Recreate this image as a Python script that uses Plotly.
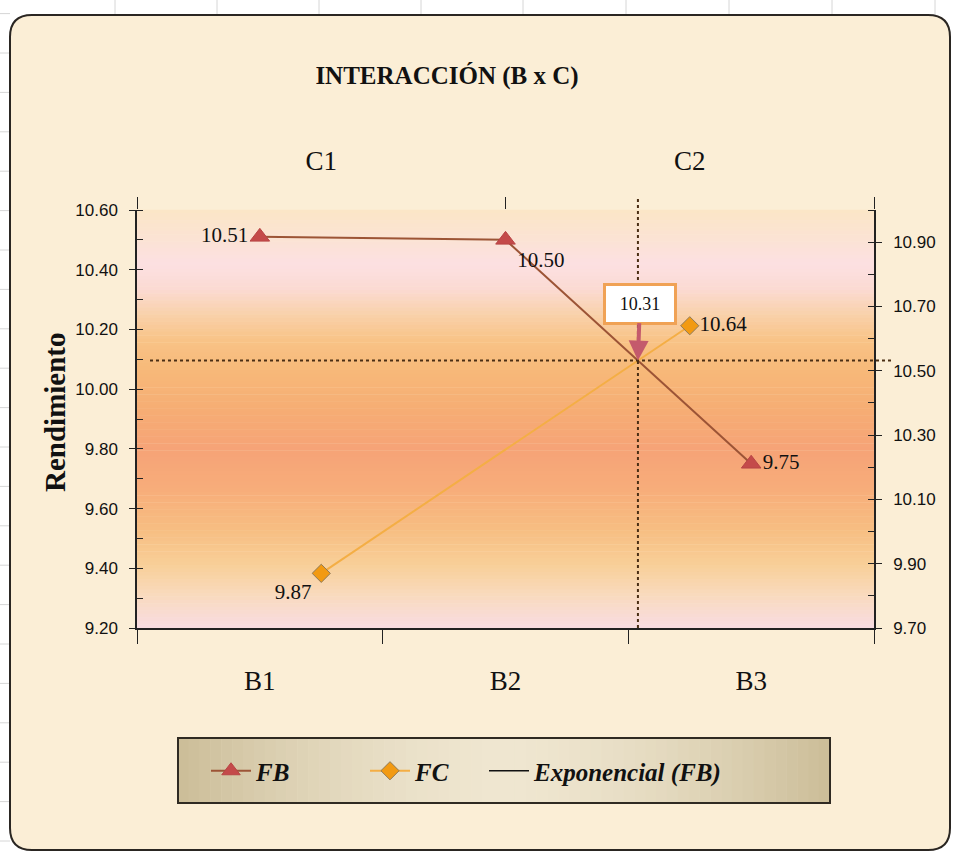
import numpy as np
import plotly.graph_objects as go

# ---- data -------------------------------------------------------------
B_LABELS = ["B1", "B2", "B3"]
FB_VALUES = [10.51, 10.50, 9.75]
C_LABELS = ["C1", "C2"]
FC_VALUES = [9.87, 10.64]
CROSS_LABEL = "10.31"
LEFT_TICKS = [9.20, 9.40, 9.60, 9.80, 10.00, 10.20, 10.40, 10.60]
RIGHT_TICKS = [9.70, 9.90, 10.10, 10.30, 10.50, 10.70, 10.90]
LEFT_RANGE = [9.20, 10.60]
RIGHT_RANGE = [9.70, 11.00]

# ---- page geometry ----------------------------------------------------
W, H = 955, 852
L, R, T, B = 137, 81, 210, 224
PW, PH = W - L - R, H - T - B


def px_x(px):
    return (px - L) / PW


def px_y(py):
    return (H - B - py) / PH


SERIF = "Liberation Serif, Times New Roman, serif"
SANS = "Liberation Sans Narrow, Arial Narrow, Liberation Sans, sans-serif"


def hexmix(c1, c2, t):
    a = np.array([int(c1[i:i + 2], 16) for i in (1, 3, 5)], float)
    b = np.array([int(c2[i:i + 2], 16) for i in (1, 3, 5)], float)
    c = a + (b - a) * t
    return "#%02x%02x%02x" % tuple(int(round(v)) for v in c)


shapes = []

# spreadsheet grid behind the chart object
for gx in [115, 217, 319, 421, 523, 626, 729, 832, 935]:
    shapes.append(dict(type="line", xref="paper", yref="paper", layer="below",
                       x0=px_x(gx), x1=px_x(gx), y0=px_y(0), y1=px_y(15),
                       line=dict(color="#d6d6d6", width=1)))
for k in range(22):
    gy = 13.6 + 39.4 * k
    shapes.append(dict(type="line", xref="paper", yref="paper", layer="below",
                       x0=px_x(0), x1=px_x(10), y0=px_y(gy), y1=px_y(gy),
                       line=dict(color="#d6d6d6", width=1)))

# rounded chart frame
x0, y0, x1, y1, rr = 10, 15, 950, 850, 22
path = (f"M {px_x(x0 + rr)},{px_y(y0)} L {px_x(x1 - rr)},{px_y(y0)} "
        f"Q {px_x(x1)},{px_y(y0)} {px_x(x1)},{px_y(y0 + rr)} "
        f"L {px_x(x1)},{px_y(y1 - rr)} Q {px_x(x1)},{px_y(y1)} {px_x(x1 - rr)},{px_y(y1)} "
        f"L {px_x(x0 + rr)},{px_y(y1)} Q {px_x(x0)},{px_y(y1)} {px_x(x0)},{px_y(y1 - rr)} "
        f"L {px_x(x0)},{px_y(y0 + rr)} Q {px_x(x0)},{px_y(y0)} {px_x(x0 + rr)},{px_y(y0)} Z")
shapes.append(dict(type="path", xref="paper", yref="paper", layer="below", path=path,
                   fillcolor="#fbeed6", line=dict(color="#2a2622", width=2)))

# plot-area vertical gradient
stops = [(210, "#fbe6c6"), (235, "#fbe3d2"), (265, "#fce0e2"), (290, "#fbdad2"),
         (315, "#f9d1aa"), (340, "#f8c387"), (370, "#f7b979"), (410, "#f6ad74"),
         (450, "#f6a377"), (490, "#f7ad7a"), (530, "#f7be82"), (565, "#f8cf98"),
         (595, "#f9dabd"), (628, "#f9dce2")]
n_strip = 120
edges = np.linspace(T, H - B, n_strip + 1)
sy = [s[0] for s in stops]
for i in range(n_strip):
    mid = 0.5 * (edges[i] + edges[i + 1])
    j = max(0, min(len(stops) - 2, int(np.searchsorted(sy, mid)) - 1))
    t = (mid - sy[j]) / (sy[j + 1] - sy[j])
    col = hexmix(stops[j][1], stops[j + 1][1], min(max(t, 0), 1))
    shapes.append(dict(type="rect", xref="paper", yref="paper", layer="below",
                       x0=0, x1=1, y0=px_y(edges[i + 1]) - 0.0005, y1=px_y(edges[i]) + 0.0005,
                       fillcolor=col, line=dict(width=0)))

# legend panel with a soft horizontal shading
lx0, lx1, ly0, ly1 = 178, 830, 738, 803
n_leg = 60
for i in range(n_leg):
    a = lx0 + (lx1 - lx0) * i / n_leg
    b = lx0 + (lx1 - lx0) * (i + 1) / n_leg
    u = abs((i + 0.5) / n_leg - 0.5) * 2
    col = hexmix("#efe6d0", "#cbbd98", u ** 1.6)
    shapes.append(dict(type="rect", xref="paper", yref="paper", layer="below",
                       x0=px_x(a) - 0.0003, x1=px_x(b) + 0.0003, y0=px_y(ly1), y1=px_y(ly0),
                       fillcolor=col, line=dict(width=0)))
shapes.append(dict(type="rect", xref="paper", yref="paper", layer="below",
                   x0=px_x(lx0), x1=px_x(lx1), y0=px_y(ly1), y1=px_y(ly0),
                   fillcolor="rgba(0,0,0,0)", line=dict(color="#2f2a22", width=2)))

# ---- crossing point of the two series (in paper units) ----------------
def frac_pt(idx, n, v, rng):
    return np.array([(idx + 0.5) / n, (v - rng[0]) / (rng[1] - rng[0])])


p1 = frac_pt(1, len(B_LABELS), FB_VALUES[1], LEFT_RANGE)
p2 = frac_pt(2, len(B_LABELS), FB_VALUES[2], LEFT_RANGE)
q1 = frac_pt(0, len(C_LABELS), FC_VALUES[0], RIGHT_RANGE)
q2 = frac_pt(1, len(C_LABELS), FC_VALUES[1], RIGHT_RANGE)
d1, d2 = p2 - p1, q2 - q1
mat = np.array([[d1[0], -d2[0]], [d1[1], -d2[1]]])
tt = np.linalg.solve(mat, q1 - p1)[0]
ix, iy = p1 + tt * d1

dot = dict(color="#4a2e14", width=2, dash="dot")
shapes.append(dict(type="line", xref="paper", yref="paper", x0=px_x(150), x1=px_x(892),
                   y0=iy, y1=iy, line=dot))
shapes.append(dict(type="line", xref="paper", yref="paper", x0=ix, x1=ix,
                   y0=0, y1=px_y(198), line=dot))

# ---- traces -----------------------------------------------------------
fig = go.Figure()
fig.add_trace(go.Scatter(
    x=B_LABELS, y=FB_VALUES, name="FB", mode="lines+markers+text",
    line=dict(color="#9c5436", width=2),
    marker=dict(symbol="triangle-up", size=17, color="#c44a4a",
                line=dict(color="#b84545", width=1)),
    text=[f"{v:.2f}" for v in FB_VALUES],
    textposition=["middle left", "bottom right", "middle right"],
    textfont=dict(family=SERIF, size=21, color="#111111"),
    xaxis="x", yaxis="y", hoverinfo="skip", legend="legend"))
fig.add_trace(go.Scatter(
    x=C_LABELS, y=FC_VALUES, name="FC", mode="lines+markers+text",
    line=dict(color="#f4ae45", width=2),
    marker=dict(symbol="diamond", size=14, color="#f29a12",
                line=dict(color="#8f7a58", width=1)),
    text=[f"{v:.2f}" for v in FC_VALUES],
    textposition=["bottom left", "middle right"],
    textfont=dict(family=SERIF, size=21, color="#111111"),
    xaxis="x2", yaxis="y2", hoverinfo="skip", legend="legend2"))
fig.add_trace(go.Scatter(
    x=[None], y=[None], name="Exponencial (FB)", mode="lines",
    line=dict(color="#111111", width=1.5), xaxis="x", yaxis="y",
    hoverinfo="skip", legend="legend3"))

axis_line = dict(showline=True, linecolor="#222222", linewidth=1.5, showgrid=False,
                 zeroline=False, tickcolor="#222222")

leg_font = dict(family=SERIF, size=25, color="#111111", style="italic", weight="bold")


def leg(xpx):
    return dict(orientation="h", x=px_x(xpx), xanchor="left", y=px_y(771),
                yanchor="middle", bgcolor="rgba(0,0,0,0)", itemwidth=40,
                font=leg_font)


fig.update_layout(
    width=W, height=H, margin=dict(l=L, r=R, t=T, b=B),
    paper_bgcolor="#ffffff", plot_bgcolor="rgba(0,0,0,0)",
    shapes=shapes,
    showlegend=True,
    legend=leg(206), legend2=leg(365), legend3=leg(484),
    title=dict(text="INTERACCIÓN (B x C)", x=447 / W, xanchor="center",
               y=1 - 75 / H, yanchor="middle",
               font=dict(family=SERIF, size=25, color="#111111", weight="bold")),
    xaxis=dict(type="category", categoryorder="array", categoryarray=B_LABELS,
               range=[-0.5, len(B_LABELS) - 0.5], tickson="boundaries",
               ticks="outside", ticklen=14, ticklabelstandoff=28,
               tickfont=dict(family=SERIF, size=27, color="#111111"),
               anchor="y", **axis_line),
    xaxis2=dict(type="category", categoryorder="array", categoryarray=C_LABELS,
                range=[-0.5, len(C_LABELS) - 0.5], tickson="boundaries",
                overlaying="x", side="top", anchor="y",
                showline=False, showgrid=False, zeroline=False,
                ticks="outside", ticklen=12, tickcolor="#222222",
                ticklabelstandoff=34,
                tickfont=dict(family=SERIF, size=27, color="#111111")),
    yaxis=dict(range=LEFT_RANGE, tickvals=LEFT_TICKS, tickformat=".2f",
               ticks="outside", ticklen=6, ticklabelstandoff=8,
               minor=dict(dtick=0.1, tick0=9.3, ticks="inside", ticklen=6,
                          tickcolor="#222222"),
               tickfont=dict(family=SANS, size=17, color="#111111"),
               anchor="x", **axis_line),
    yaxis2=dict(range=RIGHT_RANGE, tickvals=RIGHT_TICKS, tickformat=".2f",
                overlaying="y", side="right", anchor="x",
                ticks="outside", ticklen=6, ticklabelstandoff=8,
                minor=dict(dtick=0.1, tick0=9.8, ticks="inside", ticklen=6,
                           tickcolor="#222222"),
                tickfont=dict(family=SANS, size=17, color="#111111"),
                **axis_line),
    annotations=[
        dict(text="Rendimiento", xref="paper", yref="paper",
             x=px_x(37), y=px_y(412), textangle=-90, showarrow=False,
             font=dict(family=SERIF, size=29, color="#111111", weight="bold")),
        dict(text=CROSS_LABEL, xref="paper", yref="paper", x=ix, y=iy,
             showarrow=True, ax=2, ay=-57, arrowhead=2, arrowsize=1,
             arrowwidth=4, arrowcolor="#c45a6c", standoff=0,
             bgcolor="#ffffff", bordercolor="#f0a255", borderwidth=3,
             borderpad=4, width=60, height=28,
             font=dict(family=SERIF, size=18, color="#111111")),
    ],
)

fig.write_html("out.html")
